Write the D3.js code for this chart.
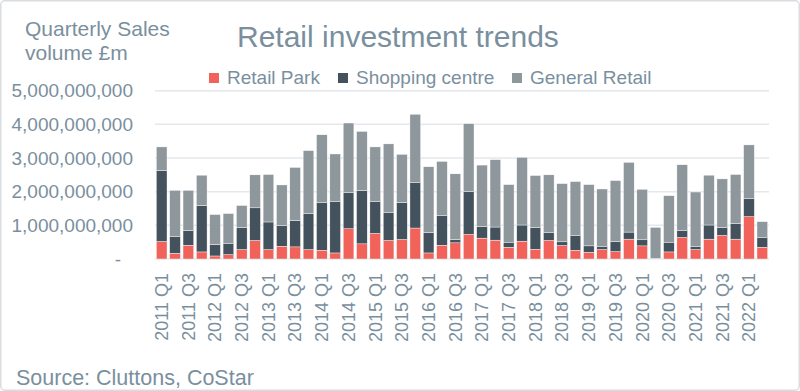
<!DOCTYPE html>
<html>
<head>
<meta charset="utf-8">
<script src="https://cdn.jsdelivr.net/npm/d3@7"></script>
<style>
  html, body { margin: 0; padding: 0; background: #fff; }
  svg { display: block; font-family: "Liberation Sans", Arial, sans-serif; }
</style>
</head>
<body>
<svg id="chart" width="800" height="391"></svg>
<script>
// ---- Data (values in £) ----
const quarters = [];
for (let y = 2011; y <= 2022; y++) {
  for (let q = 1; q <= 4; q++) {
    if (y === 2022 && q > 2) break;
    quarters.push(y + " Q" + q);
  }
}
const retailPark = [
  0.52, 0.17, 0.41, 0.21, 0.09, 0.13, 0.28, 0.55, 0.28, 0.38, 0.36, 0.28,
  0.26, 0.18, 0.90, 0.45, 0.76, 0.55, 0.58, 0.92, 0.18, 0.41, 0.48, 0.73,
  0.62, 0.56, 0.35, 0.53, 0.29, 0.55, 0.40, 0.26, 0.20, 0.28, 0.22, 0.59,
  0.39, 0.01, 0.21, 0.64, 0.28, 0.59, 0.70, 0.59, 1.26, 0.35
].map(v => v * 1e9);
const shoppingCentre = [
  2.11, 0.49, 0.44, 1.38, 0.34, 0.34, 0.66, 0.97, 0.82, 0.61, 0.78, 1.08,
  1.41, 1.52, 1.07, 1.58, 0.94, 0.84, 1.10, 1.36, 0.61, 0.89, 0.10, 1.27,
  0.35, 0.39, 0.15, 0.48, 0.65, 0.23, 0.11, 0.43, 0.19, 0.10, 0.30, 0.21,
  0.18, 0.01, 0.29, 0.20, 0.10, 0.42, 0.24, 0.47, 0.53, 0.28
].map(v => v * 1e9);
const generalRetail = [
  0.70, 1.38, 1.19, 0.90, 0.89, 0.88, 0.65, 0.98, 1.41, 1.21, 1.58, 1.86,
  2.02, 1.42, 2.07, 1.76, 1.63, 2.03, 1.43, 2.02, 1.95, 1.60, 1.95, 2.02,
  1.82, 2.00, 1.71, 2.01, 1.54, 1.72, 1.73, 1.61, 1.82, 1.70, 1.81, 2.07,
  1.50, 0.92, 1.38, 1.96, 1.61, 1.48, 1.44, 1.45, 1.60, 0.48
].map(v => v * 1e9);
const seriesNames = ["Retail Park", "Shopping centre", "General Retail"];
const seriesColors = ["#f0625a", "#43525d", "#8e979c"];
const yTicks = [0, 1e9, 2e9, 3e9, 4e9, 5e9];

// ---- Layout ----
const textColor = "#7a8f9e";
const svg = d3.select("#chart");

svg.append("rect")
  .attr("x", 0.75).attr("y", 0.75).attr("width", 798.5).attr("height", 389.5)
  .attr("rx", 4).attr("fill", "#fff").attr("stroke", "#d9dde1").attr("stroke-width", 1.5);

const rows = quarters.map((q, i) => ({
  q, "Retail Park": retailPark[i], "Shopping centre": shoppingCentre[i], "General Retail": generalRetail[i]
}));
const stacked = d3.stack().keys(seriesNames)(rows);

const x = d3.scaleBand().domain(quarters).range([155, 769]).paddingInner(0.2).paddingOuter(0.1);
const y = d3.scaleLinear().domain([0, 5e9]).range([259, 90.7]);

// gridlines
svg.append("g").selectAll("line").data(yTicks).join("line")
  .attr("x1", 155).attr("x2", 769)
  .attr("y1", d => y(d)).attr("y2", d => y(d))
  .attr("stroke", "#e4e8ed").attr("stroke-width", 1.5);

// y axis labels
const yAxis = d3.axisLeft(y).tickValues(yTicks)
  .tickFormat(d => d === 0 ? "-" : d3.format(",")(d)).tickSize(0).tickPadding(0);
const yg = svg.append("g").attr("transform", "translate(133,0)").call(yAxis);
yg.select(".domain").remove();
yg.selectAll("text").attr("fill", textColor).style("font-size", "19px")
  .attr("font-family", "'Liberation Sans', Arial, sans-serif");
yg.selectAll(".tick").filter(d => d === 0).select("text").attr("dx", -12);

// bars
svg.append("g").selectAll("g").data(stacked).join("g")
  .attr("fill", (d, i) => seriesColors[i])
  .selectAll("rect").data(d => d).join("rect")
  .attr("x", d => x(d.data.q))
  .attr("width", x.bandwidth())
  .attr("y", d => y(d[1]))
  .attr("height", d => Math.max(0, y(d[0]) - y(d[1])))
  .attr("stroke", "#ffffff").attr("stroke-width", 0.4);

// x axis labels
const xAxis = d3.axisBottom(x).tickValues(quarters.filter((q, i) => i % 2 === 0))
  .tickSize(0).tickPadding(0);
const xg = svg.append("g").attr("transform", "translate(0,273)").call(xAxis);
xg.select(".domain").remove();
xg.selectAll("text")
  .attr("fill", textColor).style("font-size", "18px")
  .attr("font-family", "'Liberation Sans', Arial, sans-serif")
  .attr("transform", "rotate(-90)")
  .attr("text-anchor", "end")
  .attr("x", 0).attr("y", 0).attr("dy", "0.35em");

// title
svg.append("text").attr("x", 237).attr("y", 47)
  .attr("fill", textColor).style("font-size", "30px")
  .text("Retail investment trends");

// y axis title
const yt = svg.append("text").attr("fill", textColor).style("font-size", "21px");
yt.append("tspan").attr("x", 25).attr("y", 36).text("Quarterly Sales");
yt.append("tspan").attr("x", 25).attr("y", 60).text("volume £m");

// legend
const legendX = [209, 338, 512];
const lg = svg.append("g").selectAll("g").data(seriesNames).join("g")
  .attr("transform", (d, i) => `translate(${legendX[i]},0)`);
lg.append("rect").attr("x", 0).attr("y", 73).attr("width", 10).attr("height", 10)
  .attr("fill", (d, i) => seriesColors[i]);
lg.append("text").attr("x", 18).attr("y", 84)
  .attr("fill", textColor).style("font-size", "19px").text(d => d);

// source
svg.append("text").attr("x", 16).attr("y", 385)
  .attr("fill", textColor).style("font-size", "21.5px")
  .text("Source: Cluttons, CoStar");
</script>
</body>
</html>
